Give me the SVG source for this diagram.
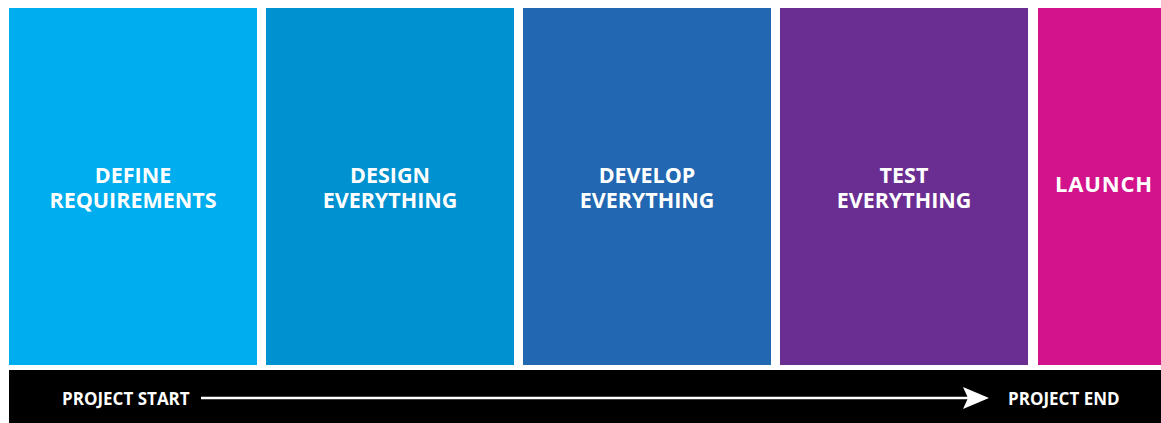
<svg xmlns="http://www.w3.org/2000/svg" width="1161" height="423" viewBox="0 0 1161 423">
  <style>
    .phase { stroke: none; }
    .label { fill: #ffffff; font-family: "Open Sans", "Liberation Sans", sans-serif; font-weight: 700; font-size: 21.5px; text-anchor: middle; }
    .tl { fill: #ffffff; font-family: "Open Sans", "Liberation Sans", sans-serif; font-weight: 700; font-size: 17px; }
  </style>
  <rect x="0" y="0" width="1161" height="423" fill="#ffffff"/>

  <g id="define">
    <rect class="phase" x="9" y="8" width="248" height="357" fill="#00adee"/>
    <text class="label" x="133" y="183">DEFINE</text>
    <text class="label" x="133" y="208">REQUIREMENTS</text>
  </g>
  <g id="design">
    <rect class="phase" x="266" y="8" width="248" height="357" fill="#0091d0"/>
    <text class="label" x="390" y="183">DESIGN</text>
    <text class="label" x="390" y="208">EVERYTHING</text>
  </g>
  <g id="develop">
    <rect class="phase" x="523" y="8" width="248" height="357" fill="#2267b1"/>
    <text class="label" x="647" y="183">DEVELOP</text>
    <text class="label" x="647" y="208">EVERYTHING</text>
  </g>
  <g id="test">
    <rect class="phase" x="780" y="8" width="248" height="357" fill="#6a2d91"/>
    <text class="label" x="904" y="183">TEST</text>
    <text class="label" x="904" y="208">EVERYTHING</text>
  </g>
  <g id="launch">
    <rect class="phase" x="1038" y="8" width="123" height="357" fill="#d3138c"/>
    <text class="label" x="1104" y="192" style="font-size:22px;letter-spacing:0.8px">LAUNCH</text>
  </g>

  <g id="timeline">
    <rect x="9" y="370" width="1152" height="53" fill="#000000"/>
    <text class="tl" x="62" y="405">PROJECT START</text>
    <text class="tl" x="1008" y="405">PROJECT END</text>
  </g>

  <g id="connectors">
    <line x1="201" y1="398" x2="968" y2="398" stroke="#ffffff" stroke-width="2.5"/>
    <path d="M963 387 L989 398 L963 409 L968 398 Z" fill="#ffffff"/>
  </g>
</svg>
